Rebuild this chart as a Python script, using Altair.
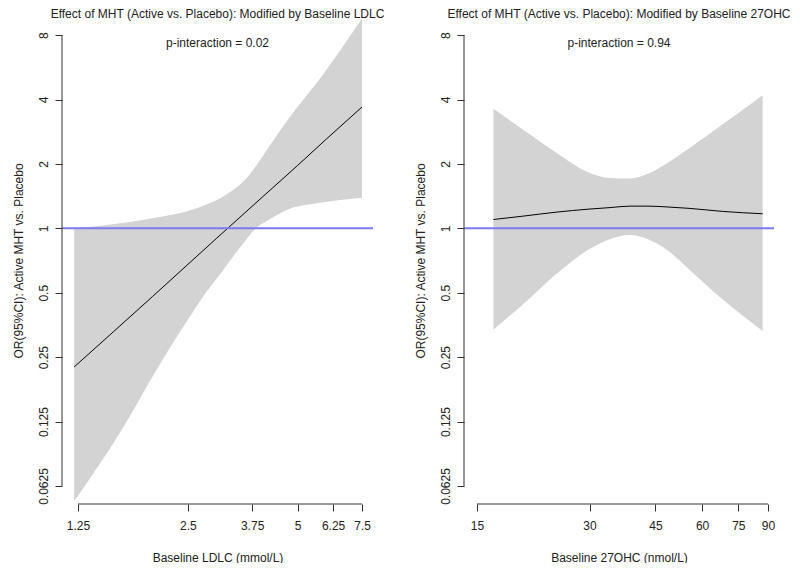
import altair as alt
import pandas as pd

FONT = "Liberation Sans"

# ---------- Left panel data (LDLC) ----------
ldl_x = [1.22, 1.66, 2.04, 2.27, 2.52, 2.80, 3.11, 3.25, 3.53, 3.84, 4.18, 4.74, 5.85, 7.5]
ldl_lo = [0.053, 0.117, 0.215, 0.29, 0.382, 0.50, 0.632, 0.70, 0.842, 1.0, 1.10, 1.23, 1.32, 1.39]
ldl_hi = [1.0, 1.06, 1.12, 1.16, 1.21, 1.29, 1.40, 1.47, 1.64, 1.95, 2.42, 3.29, 5.2, 9.6]
ldl_line_x = [1.22, 2.0, 3.0, 4.0, 5.0, 6.0, 7.5]
ldl_line_y = [0.225, 0.48, 0.90, 1.40, 1.97, 2.62, 3.69]
ldl_ticks = [1.25, 2.5, 3.75, 5, 6.25, 7.5]

# ---------- Right panel data (27OHC) ----------
ohc_x = [16.6, 19.9, 24.4, 29.9, 34.0, 38.5, 43.0, 48.0, 55.4, 68.0, 87.1]
ohc_lo = [0.337, 0.441, 0.61, 0.798, 0.89, 0.93, 0.89, 0.80, 0.643, 0.466, 0.331]
ohc_hi = [3.62, 2.90, 2.26, 1.82, 1.72, 1.71, 1.80, 2.00, 2.37, 3.06, 4.19]
ohc_line = [1.10, 1.14, 1.19, 1.23, 1.25, 1.27, 1.27, 1.26, 1.24, 1.20, 1.17]
ohc_ticks = [15, 30, 45, 60, 75, 90]

y_ticks = [0.0625, 0.125, 0.25, 0.5, 1, 2, 4, 8]
y_domain = [0.0515, 9.72]

titles = ["Effect of MHT (Active vs. Placebo): Modified by Baseline LDLC",
          "Effect of MHT (Active vs. Placebo): Modified by Baseline 27OHC"]
p_texts = ["p-interaction = 0.02", "p-interaction = 0.94"]
x_titles = ["Baseline LDLC (mmol/L)", "Baseline 27OHC (nmol/L)"]
y_title = "OR(95%CI): Active MHT vs. Placebo"

H = 487


def panel(bx, blo, bhi, lx, ly, xticks, xdom, width, title, ptext, xtitle):
    band_df = pd.DataFrame({"x": bx, "lo": blo, "hi": bhi})
    line_df = pd.DataFrame({"x": lx, "y": ly})
    one = pd.DataFrame({"a": [0]})

    xs = alt.Scale(type="log", domain=xdom, nice=False, zero=False)
    ys = alt.Scale(type="log", base=2, domain=y_domain, nice=False, zero=False)

    xaxis = alt.Axis(values=xticks, domain=False, grid=False, tickSize=7,
                     tickColor="#333", tickWidth=1, labelFont=FONT, labelFontSize=12,
                     labelColor="#222", labelPadding=9, labelFlush=False,
                     labelOverlap=False, labelExpr="datum.value + ''",
                     title=xtitle, titleFont=FONT, titleFontSize=12,
                     titleFontWeight="normal", titleColor="#222", titlePadding=21)
    yaxis = alt.Axis(values=y_ticks, domain=False, grid=False, tickSize=7,
                     tickColor="#333", tickWidth=1, labelFont=FONT, labelFontSize=12,
                     labelColor="#222", labelAngle=270, labelPadding=5,
                     labelFlush=False, labelOverlap=False,
                     labelExpr="datum.value + ''",
                     title=y_title, titleFont=FONT, titleFontSize=12,
                     titleFontWeight="normal", titleColor="#222", titlePadding=12)

    band = alt.Chart(band_df).mark_area(color="#D3D3D3", opacity=1,
                                        interpolate="monotone").encode(
        x=alt.X("x:Q", scale=xs, axis=xaxis),
        y=alt.Y("lo:Q", scale=ys, axis=yaxis),
        y2="hi:Q",
    )
    line = alt.Chart(line_df).mark_line(color="black", strokeWidth=1,
                                        interpolate="monotone").encode(
        x="x:Q", y="y:Q")
    ref = alt.Chart(one).mark_rule(color="#7B7BF4", strokeWidth=2).encode(
        y=alt.datum(1), x=alt.value(0), x2=alt.value(width))
    xline = alt.Chart(one).mark_rule(color="#333", strokeWidth=1).encode(
        x=alt.datum(xticks[0]), x2=alt.datum(xticks[-1]), y=alt.value(H))
    yline = alt.Chart(one).mark_rule(color="#333", strokeWidth=1).encode(
        y=alt.datum(y_ticks[0]), y2=alt.datum(y_ticks[-1]), x=alt.value(0))
    ttl = alt.Chart(one).mark_text(font=FONT, fontSize=12, color="#222",
                                   baseline="alphabetic", align="center").encode(
        x=alt.value(width / 2), y=alt.value(1), text=alt.value(title))
    ptx = alt.Chart(one).mark_text(font=FONT, fontSize=12, color="#222",
                                   baseline="alphabetic", align="center").encode(
        x=alt.value(width / 2), y=alt.value(30), text=alt.value(ptext))

    return alt.layer(band, line, ref, xline, yline, ttl, ptx).properties(
        width=width, height=H)


left = panel(ldl_x, ldl_lo, ldl_hi, ldl_line_x, ldl_line_y, ldl_ticks,
             [1.13, 8.04], 311, titles[0], p_texts[0], x_titles[0])
right = panel(ohc_x, ohc_lo, ohc_hi, ohc_x, ohc_line, ohc_ticks,
              [13.85, 93.4], 310, titles[1], p_texts[1], x_titles[1])

chart = alt.hconcat(left, right, spacing=91, bounds="flush").properties(
    padding={"left": 4, "top": 0, "right": 0, "bottom": 0},
    autosize=alt.AutoSizeParams(type="pad"),
    background="white",
).configure_view(strokeWidth=0)

chart.save("out.html", embed_options={"renderer": "svg", "actions": False})
